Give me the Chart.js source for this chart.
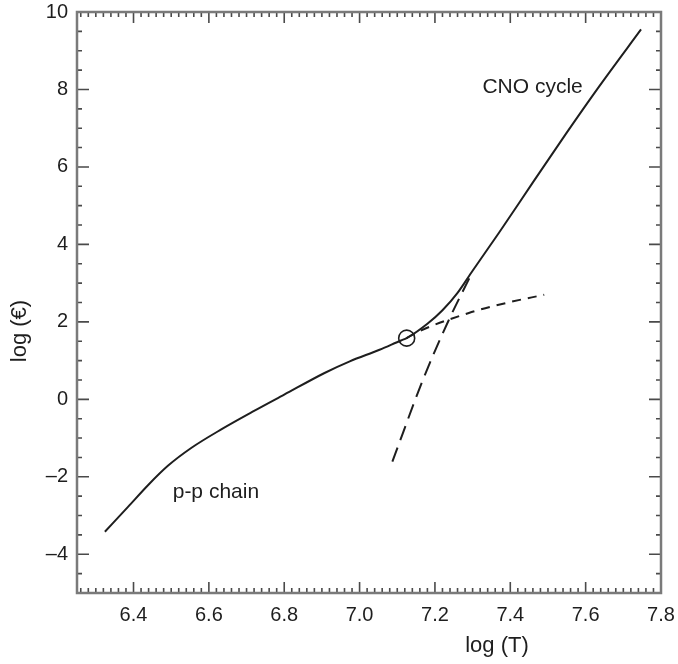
<!DOCTYPE html>
<html>
<head>
<meta charset="utf-8">
<title>Energy generation: p-p chain vs CNO cycle</title>
<script src="https://cdn.jsdelivr.net/npm/chart.js@4.4.1/dist/chart.umd.min.js"></script>
<style>
    html, body { margin: 0; padding: 0; background: #fff; }
    #wrap { width: 678px; height: 664px; position: relative; }
</style>
</head>
<body>
<div id="wrap"><canvas id="energyChart"></canvas></div>
<script>
// ============================================================
//  Data
// ============================================================

// total rate (solid)
const totalLogT = [6.324, 6.386, 6.439, 6.492, 6.554, 6.634, 6.72, 6.80, 6.907, 6.974, 7.053, 7.11, 7.125, 7.18, 7.22, 7.26, 7.30, 7.37, 7.46, 7.548, 7.636, 7.747];
const totalLogE = [-3.42, -2.77, -2.21, -1.71, -1.25, -0.77, -0.30, 0.12, 0.68, 0.98, 1.28, 1.52, 1.58, 1.95, 2.30, 2.75, 3.32, 4.30, 5.60, 6.86, 8.08, 9.55];

// p-p chain continuation (short dashes)
const ppLogT = [7.125, 7.15, 7.29, 7.39, 7.49];
const ppLogE = [1.58, 1.72, 2.23, 2.49, 2.70];

// CNO cycle continuation (long dashes)
const cnoLogT = [7.087, 7.168, 7.235, 7.295];
const cnoLogE = [-1.61, 0.50, 2.01, 3.20];

// crossover point (open circle)
const crossLogT = [7.125];
const crossLogE = [1.58];

// axes
const xTicks = [6.4, 6.6, 6.8, 7.0, 7.2, 7.4, 7.6, 7.8];
const yTicks = [-4, -2, 0, 2, 4, 6, 8, 10];
const xRange = [6.25, 7.8];
const yRange = [-5, 10];

// text labels [logT, logE, text]
const curveLabels = [
    [7.326, 7.92, 'CNO cycle'],
    [6.504, -2.55, 'p-p chain'],
];

const FONT = '"Liberation Sans", Arial, Helvetica, sans-serif';
const INK = '#1e1e1e';

const toPoints = (xs, ys) => xs.map((x, i) => ({ x: x, y: ys[i] }));

// ------------------------------------------------------------
// frame, inward ticks, labels and axis titles
// ------------------------------------------------------------
const framePlugin = {
    id: 'frame',
    afterDatasetsDraw(chart) {
        const { ctx, chartArea: a, scales } = chart;
        const xs = scales.x, ys = scales.y;
        ctx.save();

        // ticks
        ctx.strokeStyle = '#4a4a4a';
        ctx.lineWidth = 1.6;
        ctx.beginPath();
        for (let i = 0; i <= Math.round((xRange[1] - 6.24) / 0.02); i++) {
            const v = 6.24 + i * 0.02;
            if (v < xRange[0] - 1e-9 || v > xRange[1] + 1e-9) continue;
            const major = Math.abs(v * 5 - Math.round(v * 5)) < 1e-6;
            const len = major ? 11 : 5;
            const px = xs.getPixelForValue(v);
            ctx.moveTo(px, a.bottom); ctx.lineTo(px, a.bottom - len);
            ctx.moveTo(px, a.top); ctx.lineTo(px, a.top + len);
        }
        for (let v = yRange[0]; v <= yRange[1] + 1e-9; v += 0.5) {
            const major = Math.abs(v / 2 - Math.round(v / 2)) < 1e-6;
            const len = major ? 12 : 5;
            const py = ys.getPixelForValue(v);
            ctx.moveTo(a.left, py); ctx.lineTo(a.left + len, py);
            ctx.moveTo(a.right, py); ctx.lineTo(a.right - len, py);
        }
        ctx.stroke();

        // box
        ctx.strokeStyle = '#7a7a7a';
        ctx.lineWidth = 2.5;
        ctx.strokeRect(a.left, a.top, a.right - a.left, a.bottom - a.top);

        // curve labels
        ctx.fillStyle = INK;
        ctx.font = '21px ' + FONT;
        ctx.textAlign = 'left';
        ctx.textBaseline = 'alphabetic';
        curveLabels.forEach(l => {
            ctx.fillText(l[2], xs.getPixelForValue(l[0]), ys.getPixelForValue(l[1]));
        });

        // axis titles
        ctx.font = '22px ' + FONT;
        ctx.textAlign = 'center';
        ctx.fillText('log (T)', 497, 652);
        ctx.translate(26, 331);
        ctx.rotate(-Math.PI / 2);
        ctx.fillText('log (€)', 0, 0);
        ctx.restore();
    }
};

new Chart(document.getElementById('energyChart'), {
    type: 'scatter',
    data: {
        datasets: [
            {
                label: 'total',
                data: toPoints(totalLogT, totalLogE),
                showLine: true,
                borderColor: INK,
                borderWidth: 2,
                pointRadius: 0,
                cubicInterpolationMode: 'monotone',
            },
            {
                label: 'p-p',
                data: toPoints(ppLogT, ppLogE),
                showLine: true,
                borderColor: INK,
                borderWidth: 2,
                borderDash: [9, 7],
                pointRadius: 0,
                cubicInterpolationMode: 'monotone',
            },
            {
                label: 'CNO',
                data: toPoints(cnoLogT, cnoLogE),
                showLine: true,
                borderColor: INK,
                borderWidth: 2,
                borderDash: [15, 8],
                pointRadius: 0,
                cubicInterpolationMode: 'monotone',
            },
            {
                label: 'crossover',
                data: toPoints(crossLogT, crossLogE),
                showLine: false,
                pointRadius: 8,
                pointBorderWidth: 1.6,
                pointBorderColor: INK,
                pointBackgroundColor: 'rgba(0,0,0,0)',
            },
        ]
    },
    options: {
        responsive: true,
        maintainAspectRatio: false,
        animation: false,
        layout: { padding: { top: 12, right: 17, left: 0, bottom: 0 } },
        plugins: {
            legend: { display: false },
            tooltip: { enabled: false },
        },
        scales: {
            x: {
                type: 'linear',
                min: xRange[0],
                max: xRange[1],
                grid: { display: false, drawTicks: false },
                border: { display: false },
                afterBuildTicks: s => { s.ticks = xTicks.map(v => ({ value: v })); },
                afterFit: s => {
                    s.height = 71;
                    s.paddingLeft = 0;
                    s.paddingRight = 0;
                },
                ticks: {
                    padding: 10,
                    color: INK,
                    font: { size: 20, family: FONT },
                    maxRotation: 0,
                    callback: v => v.toFixed(1),
                },
            },
            y: {
                type: 'linear',
                min: yRange[0],
                max: yRange[1],
                grid: { display: false, drawTicks: false },
                border: { display: false },
                afterBuildTicks: s => { s.ticks = yTicks.map(v => ({ value: v })); },
                afterFit: s => {
                    s.width = 77;
                    s.paddingTop = 0;
                    s.paddingBottom = 0;
                },
                ticks: {
                    padding: 9,
                    color: INK,
                    font: { size: 20, family: FONT },
                    callback: v => (v < 0 ? '\u2013' + Math.abs(v) : String(v)),
                },
            },
        },
    },
    plugins: [framePlugin],
});
</script>
</body>
</html>
